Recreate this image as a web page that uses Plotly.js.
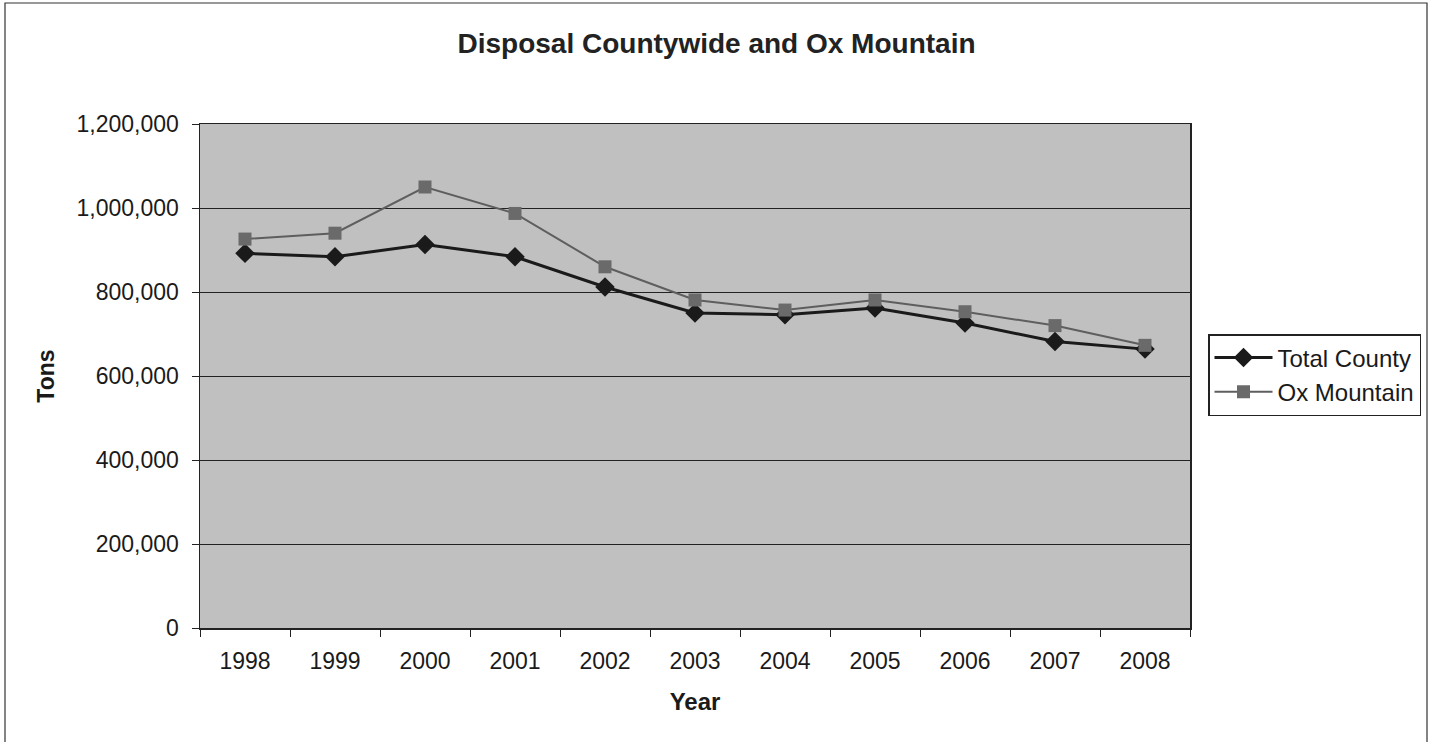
<!DOCTYPE html>
<html>
<head>
<meta charset="utf-8">
<script src="https://cdn.plot.ly/plotly-3.0.1.min.js"></script>
<style>html,body{margin:0;padding:0;background:#fff;}#chart{width:1433px;height:742px;}</style>
</head>
<body>
<div id="chart"></div>
<script>
const years = ['1998','1999','2000','2001','2002','2003','2004','2005','2006','2007','2008'];
const totalCounty = [892000, 884000, 913000, 884000, 812000, 750000, 746000, 762000, 726000, 682000, 664000];
const oxMountain = [926000, 940000, 1050000, 987000, 860000, 781000, 757000, 781000, 753000, 720000, 673000];
const yTicks = [0, 200000, 400000, 600000, 800000, 1000000, 1200000];
const yTickText = ['0', '200,000', '400,000', '600,000', '800,000', '1,000,000', '1,200,000'];

const FONT = 'Arial, "Liberation Sans", sans-serif';

const traces = [
  {
    x: years, y: totalCounty, name: 'Total County', type: 'scatter', mode: 'lines+markers',
    line: {color: '#1a1a1a', width: 3},
    marker: {symbol: 'diamond', size: 15, color: '#1a1a1a'}
  },
  {
    x: years, y: oxMountain, name: 'Ox Mountain', type: 'scatter', mode: 'lines+markers',
    line: {color: '#5e5e5e', width: 2},
    marker: {symbol: 'square', size: 13, color: '#6a6a6a'}
  }
];

const layout = {
  width: 1433, height: 742,
  margin: {l: 200, r: 243, t: 124, b: 114},
  paper_bgcolor: '#ffffff',
  plot_bgcolor: '#c0c0c0',
  font: {family: FONT, color: '#1a1a1a', size: 23},
  title: {text: '<b>Disposal Countywide and Ox Mountain</b>', font: {family: FONT, size: 28, color: '#222'},
          x: 0.5, xref: 'container', y: 1 - 43/742, yref: 'container', yanchor: 'middle'},
  xaxis: {
    type: 'category', range: [-0.5, 10.5], tickson: 'boundaries', ticks: 'outside', ticklen: 7, tickcolor: '#222',
    showline: true, linecolor: '#222', linewidth: 1.5, mirror: true,
    showgrid: false, zeroline: false, ticklabelstandoff: 12,
    tickfont: {family: FONT, size: 23, color: '#1a1a1a'},
    title: {text: '<b>Year</b>', font: {family: FONT, size: 24, color: '#1a1a1a'}, standoff: 20}
  },
  yaxis: {
    range: [0, 1200000], tickvals: yTicks, ticktext: yTickText,
    ticks: 'outside', ticklen: 7, tickcolor: '#222',
    showline: true, linecolor: '#222', linewidth: 1.5, mirror: true,
    showgrid: true, gridcolor: '#222', gridwidth: 1, zeroline: false, ticklabelstandoff: 8,
    tickfont: {family: FONT, size: 23, color: '#1a1a1a'},
    title: {text: '<b>Tons</b>', font: {family: FONT, size: 23, color: '#1a1a1a'}, standoff: 15}
  },
  showlegend: true,
  legend: {
    x: (1208 - 200) / 990, xanchor: 'left', y: (628 - 334) / 504, yanchor: 'top',
    bgcolor: '#ffffff', bordercolor: '#222', borderwidth: 1.5,
    font: {family: FONT, size: 24, color: '#1a1a1a'},
    tracegroupgap: 2, itemwidth: 58
  },
  shapes: [
    {type: 'rect', xref: 'paper', yref: 'paper',
     x0: (5 - 200) / 990, x1: (1427 - 200) / 990, y0: (628 - 745) / 504, y1: (628 - 3) / 504,
     line: {color: '#333', width: 1.2}, fillcolor: 'rgba(0,0,0,0)', layer: 'below'}
  ]
};

Plotly.newPlot('chart', traces, layout, {displayModeBar: false, staticPlot: true});
</script>
</body>
</html>
